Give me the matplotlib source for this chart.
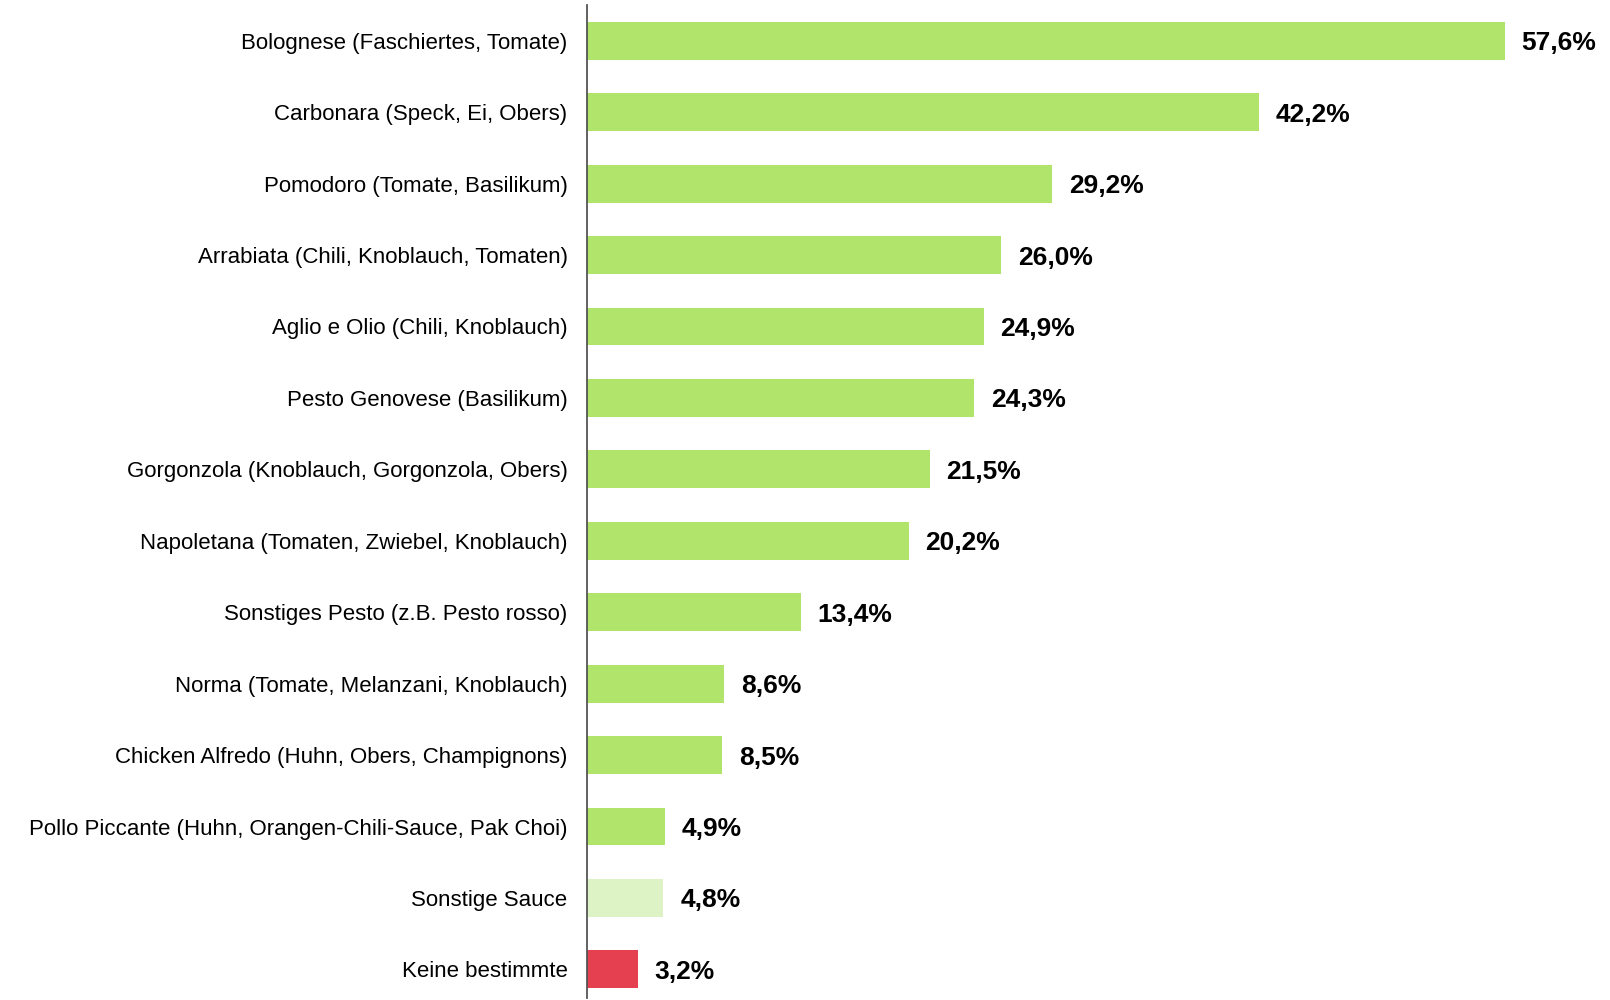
import matplotlib.pyplot as plt

plt.rcParams['font.family'] = ['Liberation Sans', 'DejaVu Sans']

# Daten
kategorien = [
    "Bolognese (Faschiertes, Tomate)",
    "Carbonara (Speck, Ei, Obers)",
    "Pomodoro (Tomate, Basilikum)",
    "Arrabiata (Chili, Knoblauch, Tomaten)",
    "Aglio e Olio (Chili, Knoblauch)",
    "Pesto Genovese (Basilikum)",
    "Gorgonzola (Knoblauch, Gorgonzola, Obers)",
    "Napoletana (Tomaten, Zwiebel, Knoblauch)",
    "Sonstiges Pesto (z.B. Pesto rosso)",
    "Norma (Tomate, Melanzani, Knoblauch)",
    "Chicken Alfredo (Huhn, Obers, Champignons)",
    "Pollo Piccante (Huhn, Orangen-Chili-Sauce, Pak Choi)",
    "Sonstige Sauce",
    "Keine bestimmte",
]
werte = [57.6, 42.2, 29.2, 26.0, 24.9, 24.3, 21.5, 20.2, 13.4, 8.6, 8.5, 4.9, 4.8, 3.2]
farben = ["#b1e46b"] * 12 + ["#ddf3c5", "#e54050"]

fig = plt.figure(figsize=(16.1, 10), dpi=100)
ax = fig.add_axes([587 / 1610, 0.002, 1 - 587 / 1610, 0.993])

y = range(len(kategorien))
bars = ax.barh(y, werte, height=0.53, color=farben)

for rect, w in zip(bars, werte):
    ax.annotate("{:.1f}%".format(w).replace(".", ","),
                xy=(rect.get_width(), rect.get_y() + rect.get_height() / 2),
                xytext=(12, 0), textcoords="offset points",
                ha="left", va="center_baseline", fontsize=19, fontweight="bold")

ax.set_yticks(list(y))
ax.set_yticklabels(kategorien, fontsize=16)
ax.tick_params(axis="y", length=0, pad=14)
ax.set_xticks([])
ax.set_xlim(0, 64.2)
ax.set_ylim(13.4, -0.5)

for s in ["top", "right", "bottom"]:
    ax.spines[s].set_visible(False)
ax.spines["left"].set_color("#555555")
ax.spines["left"].set_linewidth(1.3)

fig.savefig("out.png", dpi=100)
